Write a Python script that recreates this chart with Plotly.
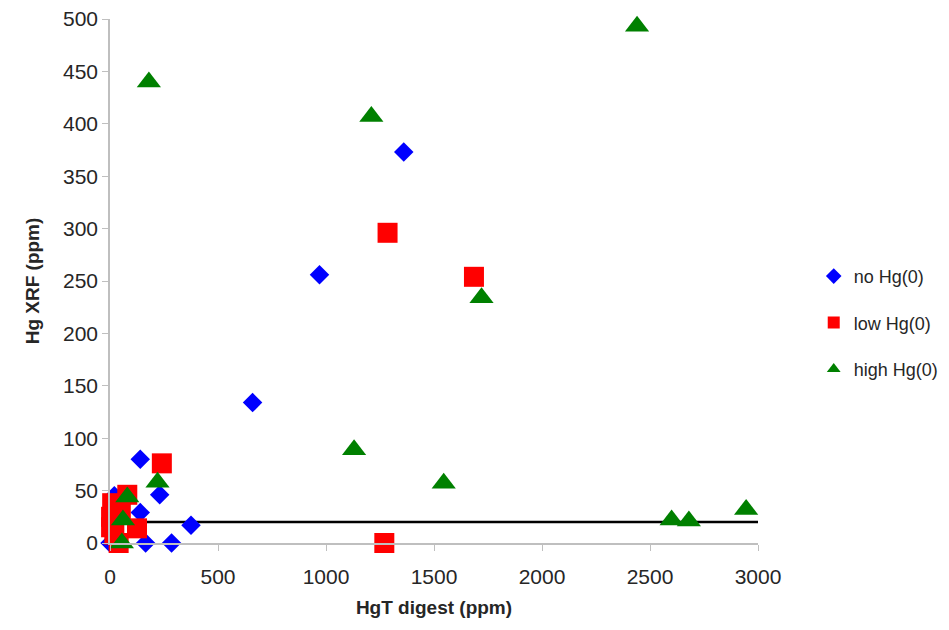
import plotly.graph_objects as go

# Data
no_x = [1360, 970, 660, 140, 230, 140, 375, 285, 165, 20, 0]
no_y = [373, 256, 134, 80, 46, 29, 17, 0, 0, 45, 0]

low_x = [1285, 1685, 240, 1270, 80, 10, 5, 5, 20, 40, 125, 50]
low_y = [296, 254, 76, 0, 46, 38, 25, 15, 8, 0, 14, 30]

high_x = [2440, 180, 1210, 1720, 1130, 1545, 2600, 2680, 2945, 220, 80, 60, 55]
high_y = [493, 440, 407, 234, 89, 57, 22, 21, 32, 58, 44, 22, 0]

ref_x = [0, 3000]
ref_y = [20, 20]

x_ticks = [0, 500, 1000, 1500, 2000, 2500, 3000]
y_ticks = [0, 50, 100, 150, 200, 250, 300, 350, 400, 450, 500]

font = "Liberation Sans, Arial, sans-serif"
txt = "#262626"

fig = go.Figure()
fig.add_trace(go.Scatter(x=ref_x, y=ref_y, mode="lines",
                         line=dict(color="black", width=2.5),
                         showlegend=False, hoverinfo="skip", cliponaxis=False))
fig.add_trace(go.Scatter(x=no_x, y=no_y, mode="markers", name="no Hg(0)", legendgroup="a",
                         marker=dict(symbol="diamond", size=15, color="#0000ff"),
                         cliponaxis=False))
fig.add_trace(go.Scatter(x=low_x, y=low_y, mode="markers", name="low Hg(0)", legendgroup="b",
                         marker=dict(symbol="square", size=20, color="#ff0000"),
                         cliponaxis=False))
fig.add_trace(go.Scatter(x=high_x, y=high_y, mode="markers", name="high Hg(0)", legendgroup="c",
                         marker=dict(symbol="triangle-up", size=21, color="#008000"),
                         cliponaxis=False))

fig.update_layout(
    width=949, height=630,
    margin=dict(l=110, r=191, t=19, b=87, autoexpand=False),
    plot_bgcolor="white", paper_bgcolor="white",
    font=dict(family=font, size=18, color=txt),
    legend=dict(x=1.086, y=0.42, xanchor="left", yanchor="middle",
                font=dict(size=18, color=txt), itemsizing="constant",
                tracegroupgap=20, bgcolor="rgba(0,0,0,0)"),
    xaxis=dict(range=[0, 3000], tickvals=x_ticks, showgrid=False, zeroline=False,
               showline=True, linecolor="#bfbfbf", linewidth=1.5,
               ticks="outside", ticklen=6, tickcolor="#bfbfbf",
               ticklabelstandoff=8,
               tickfont=dict(size=21, color=txt),
               title=dict(text="<b>HgT digest (ppm)</b>", font=dict(size=19, color=txt), standoff=14)),
    yaxis=dict(range=[0, 500], tickvals=y_ticks, showgrid=False, zeroline=False,
               showline=True, linecolor="#bfbfbf", linewidth=1.5,
               ticks="outside", ticklen=6, tickcolor="#bfbfbf",
               tickfont=dict(size=21, color=txt),
               title=dict(text="<b>Hg XRF (ppm)</b>", font=dict(size=19, color=txt), standoff=18)),
)

fig.write_html("out.html")
